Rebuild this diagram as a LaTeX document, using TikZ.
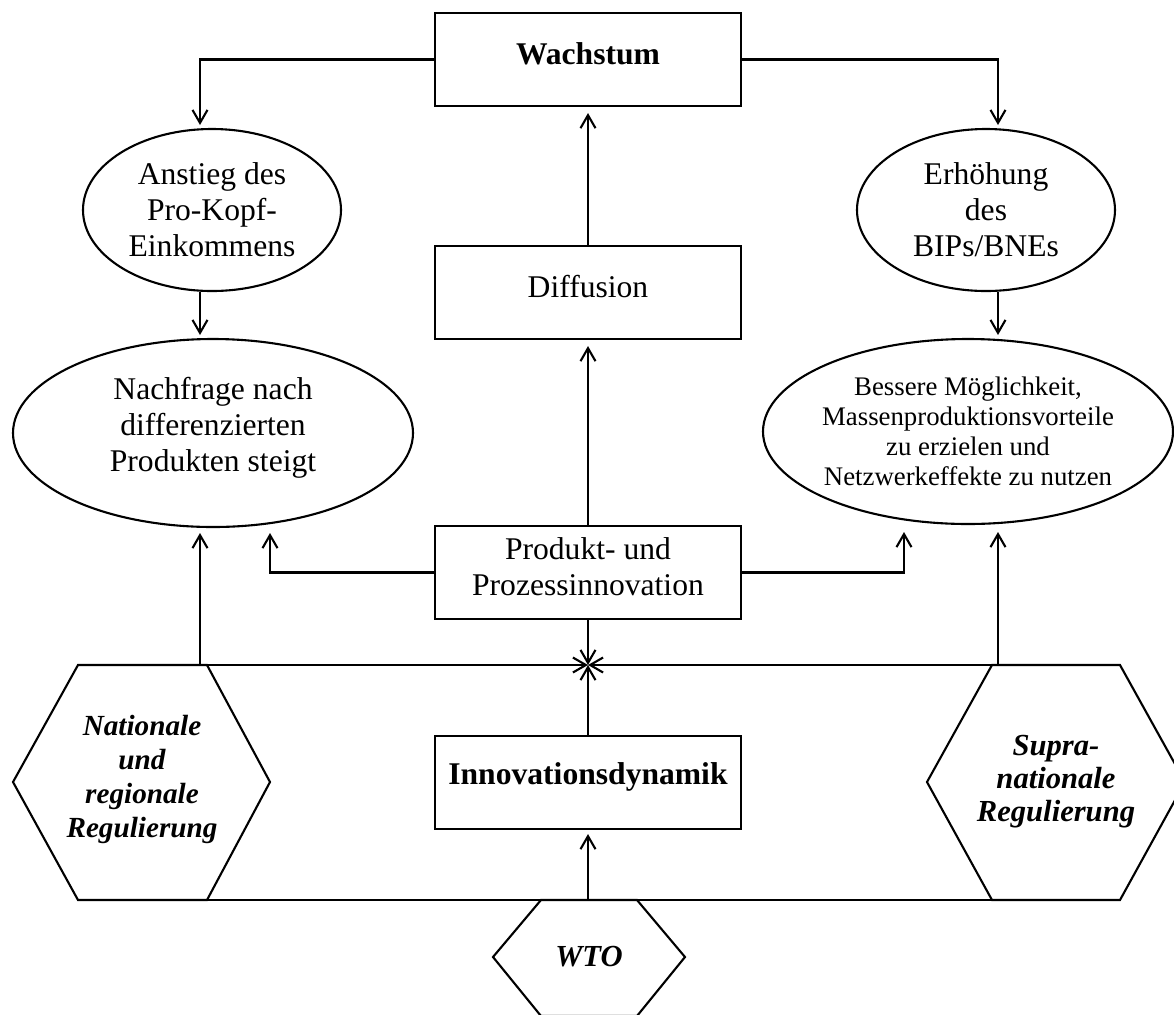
\documentclass[tikz,border=0pt]{standalone}
\usepackage{fontspec}
\setmainfont{Liberation Serif}
\usetikzlibrary{arrows.meta,shapes.geometric,calc}
\begin{document}
\begin{tikzpicture}[x=0.5pt,y=-0.5pt,line width=1.05pt,
  arr/.style={-{Straight Barb[length=6.5pt,width=7.5pt,line width=1.05pt]}},
  box/.style={draw,rectangle,minimum width=153pt,minimum height=46.5pt,inner sep=0pt},
  ell/.style={draw,ellipse,inner sep=0pt},
  main/.style={font=\fontsize{15.8}{18}\selectfont,align=center,inner sep=0pt},
  small/.style={font=\fontsize{13.4}{15}\selectfont,align=center,inner sep=0pt},
  hexL/.style={font=\fontsize{14.6}{17}\selectfont\bfseries\itshape,align=center,inner sep=0pt},
  hexR/.style={font=\fontsize{15.3}{16.5}\selectfont\bfseries\itshape,align=center,inner sep=0pt}]
\useasboundingbox (0,0) rectangle (1174,1014);
\clip (0,0) rectangle (1174,1014);

% boxes
\node[box,label={[main,yshift=3pt]center:\textbf{Wachstum}}] (W) at (588,59.5) {};
\node[box,label={[main,yshift=3pt]center:Diffusion}] (D) at (588,292.5) {};
\node[box,label={[main,yshift=3pt]center:Produkt- und\\Prozessinnovation}] (P) at (588,572.5) {};
\node[box,label={[main,yshift=3pt]center:\textbf{Innovationsdynamik}}] (I) at (588,782.5) {};

% ellipses
\node[ell,minimum width=129pt,minimum height=81pt,
  label={[main]center:Anstieg des\\Pro-Kopf-\\Einkommens}] (E1) at (212,210) {};
\node[ell,minimum width=129pt,minimum height=81pt,
  label={[main]center:Erhöhung\\des\\BIPs/BNEs}] (E2) at (986,210) {};
\node[ell,minimum width=200pt,minimum height=94pt,
  label={[main,yshift=2.5pt]center:Nachfrage nach\\differenzierten\\Produkten steigt}] (E3) at (213,433) {};
\node[ell,minimum width=205pt,minimum height=92.5pt,
  label={[small]center:Bessere Möglichkeit,\\Massenproduktionsvorteile\\zu erzielen und\\Netzwerkeffekte zu nutzen}] (E4) at (968,431.5) {};

% hexagons
\coordinate (L1) at (13,782);  \coordinate (L2) at (78,665);  \coordinate (L3) at (207,665);
\coordinate (L4) at (270,782); \coordinate (L5) at (207,900); \coordinate (L6) at (78,900);
\coordinate (R1) at (927,782); \coordinate (R2) at (992,665); \coordinate (R3) at (1120,665);
\coordinate (R4) at (1185,782); \coordinate (R5) at (1120,900); \coordinate (R6) at (992,900);
\coordinate (T1) at (493,957); \coordinate (T2) at (541,900); \coordinate (T3) at (637,900);
\coordinate (T4) at (685,957); \coordinate (T5) at (637,1016); \coordinate (T6) at (541,1016);
\draw[line join=miter] (L1) -- (L2) -- (L3) -- (L4) -- (L5) -- (L6) -- cycle;
\draw[line join=miter] (R1) -- (R2) -- (R3) -- (R4) -- (R5) -- (R6) -- cycle;
\draw[line join=miter] (T1) -- (T2) -- (T3) -- (T4) -- (T5) -- (T6) -- cycle;
\node[hexL] (NR) at (142,779) {Nationale\\und\\regionale\\Regulierung};
\node[hexR] (SR) at (1056,782) {Supra-\\nationale\\Regulierung};
\node[hexR] (WTO) at (589,957) {WTO};

% helper coordinates
\coordinate (a1) at (200,125);
\coordinate (a2) at (998,125);
\coordinate (a3) at (200,335);
\coordinate (a4) at (998,335);
\coordinate (a5) at (270,533);
\coordinate (a6) at (904,532);
\coordinate (a7) at (200,533);
\coordinate (a8) at (998,532);
\coordinate (b1) at (200,665);
\coordinate (b2) at (998,665);
\coordinate (b3) at (588,900);
\coordinate (X) at (588,665);

% connectors
\draw[arr] (W.west) -| (a1);
\draw[arr] (W.east) -| (a2);
\draw[arr] (a1 |- E1.south) -- (a3);
\draw[arr] (a2 |- E2.south) -- (a4);
\draw[arr,shorten >=3pt] (D.north) -- (W.south);
\draw[arr,shorten >=3pt] (P.north) -- (D.south);
\draw[arr] (P.west) -| (a5);
\draw[arr] (P.east) -| (a6);
\draw[arr] (P.south) -- (X);
\draw[arr] (I.north) -- (X);
\draw[arr] (L3) -- (X);
\draw[arr] (R2) -- (X);
\draw[arr] (b1) -- (a7);
\draw[arr] (b2) -- (a8);
\draw (L5) -- (R6);
\draw[arr,shorten >=2pt] (b3) -- (I.south);
\end{tikzpicture}
\end{document}
